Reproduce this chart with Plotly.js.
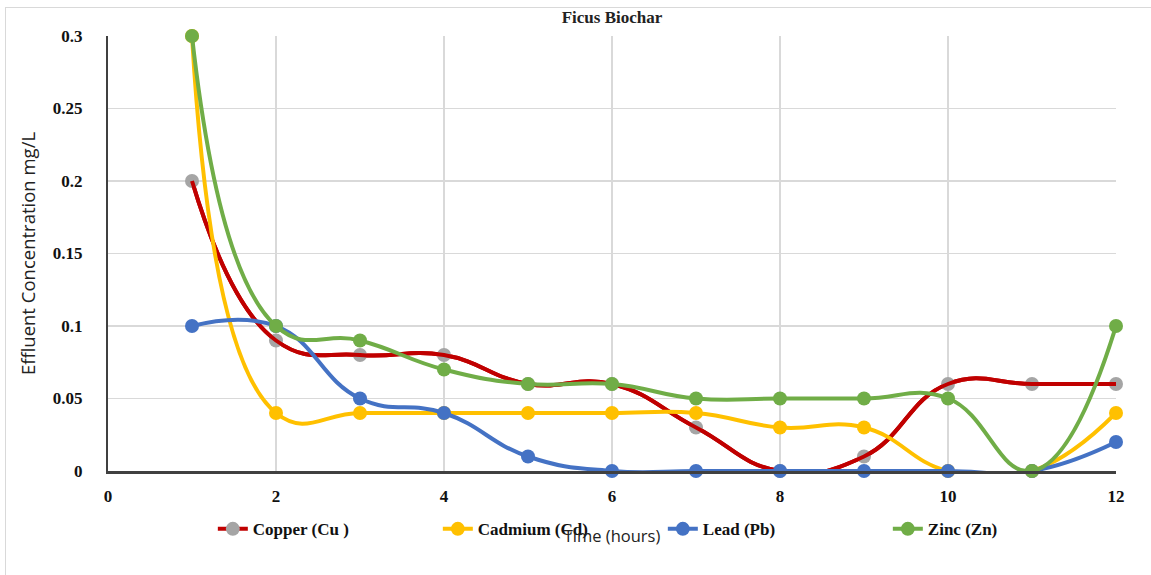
<!DOCTYPE html>
<html>
<head>
<meta charset="utf-8">
<script src="https://cdn.plot.ly/plotly-3.0.1.min.js"></script>
<style>
html,body{margin:0;padding:0;background:#fff;overflow:hidden;}
#frame{position:absolute;left:5px;top:7px;width:1170px;height:600px;border:1px solid #d9d9d9;box-sizing:border-box;}
#chart{position:absolute;left:0;top:0;width:1151px;height:575px;}
</style>
</head>
<body>
<div id="frame"></div>
<div id="chart"></div>
<script>
const hours = [1,2,3,4,5,6,7,8,9,10,11,12];
const copper  = [0.2,0.09,0.08,0.08,0.06,0.06,0.03,0,0.01,0.06,0.06,0.06];
const cadmium = [0.3,0.04,0.04,0.04,0.04,0.04,0.04,0.03,0.03,0,0,0.04];
const lead    = [0.1,0.1,0.05,0.04,0.01,0,0,0,0,0,0,0.02];
const zinc    = [0.3,0.1,0.09,0.07,0.06,0.06,0.05,0.05,0.05,0.05,0,0.1];
const seriesNames = ['Copper (Cu )','Cadmium (Cd)','Lead (Pb)','Zinc (Zn)'];

const ln = {shape:'spline', smoothing:1.3, width:4};
function tr(y, name, lineColor, markerColor, showMarkers, showlegend){
  return {
    x: hours, y: y, name: name, type:'scatter',
    mode: showMarkers ? 'lines+markers' : 'lines',
    line: Object.assign({}, ln, {color: lineColor}),
    marker: {size:14, color: markerColor},
    cliponaxis:false, showlegend: showlegend, hoverinfo:'x+y+name'
  };
}
const data = [
  tr(copper, seriesNames[0], '#C00000', '#A5A5A5', true, true),
  tr(copper, seriesNames[0], '#C00000', '#A5A5A5', false, false),
  tr(cadmium, seriesNames[1], '#FFC000', '#FFC000', true, true),
  tr(lead, seriesNames[2], '#4472C4', '#4472C4', true, true),
  tr(zinc, seriesNames[3], '#70AD47', '#70AD47', true, true)
];
const serif = '"Liberation Serif"';
const sans = '"Open Sans"';
const layout = {
  width:1151, height:575,
  paper_bgcolor:'rgba(0,0,0,0)', plot_bgcolor:'#fff',
  margin:{l:108, r:35, t:36, b:104},
  title:{text:'Ficus Biochar', font:{family:serif, size:17, color:'#222', weight:'bold'}, x:0.5, xref:'paper', xanchor:'center', y:1 - 17/575, yref:'container', yanchor:'middle'},
  xaxis:{
    range:[0,12], dtick:2, tick0:0, showgrid:true, gridcolor:'#d9d9d9', gridwidth:1.5,
    zeroline:false, showline:true, linecolor:'#404040', linewidth:2.5, ticks:'',
    tickfont:{family:serif, size:17, color:'#111', weight:'bold'}, ticklabelstandoff:8,
    title:{text:'Time (hours)', font:{family:sans, size:16.5, color:'#222'}, standoff:26}
  },
  yaxis:{
    range:[0,0.3], dtick:0.05, tick0:0, showgrid:true, gridcolor:'#d9d9d9', gridwidth:1.5,
    zeroline:false, showline:true, linecolor:'#404040', linewidth:2, ticks:'',
    tickfont:{family:serif, size:17, color:'#111', weight:'bold'}, ticklabelstandoff:20,
    title:{text:'Effluent Concentration mg/L', font:{family:sans, size:18.5, color:'#222'}, standoff:12}
  },
  legend:{orientation:'h', x:0.104, xanchor:'left', y:-0.134, yanchor:'middle',
    font:{family:serif, size:17, color:'#111', weight:'bold'}, entrywidth:180, entrywidthmode:'pixels',
    bgcolor:'rgba(0,0,0,0)'},
  showlegend:true
};
Plotly.newPlot('chart', data, layout, {displayModeBar:false, staticPlot:true});
</script>
</body>
</html>
